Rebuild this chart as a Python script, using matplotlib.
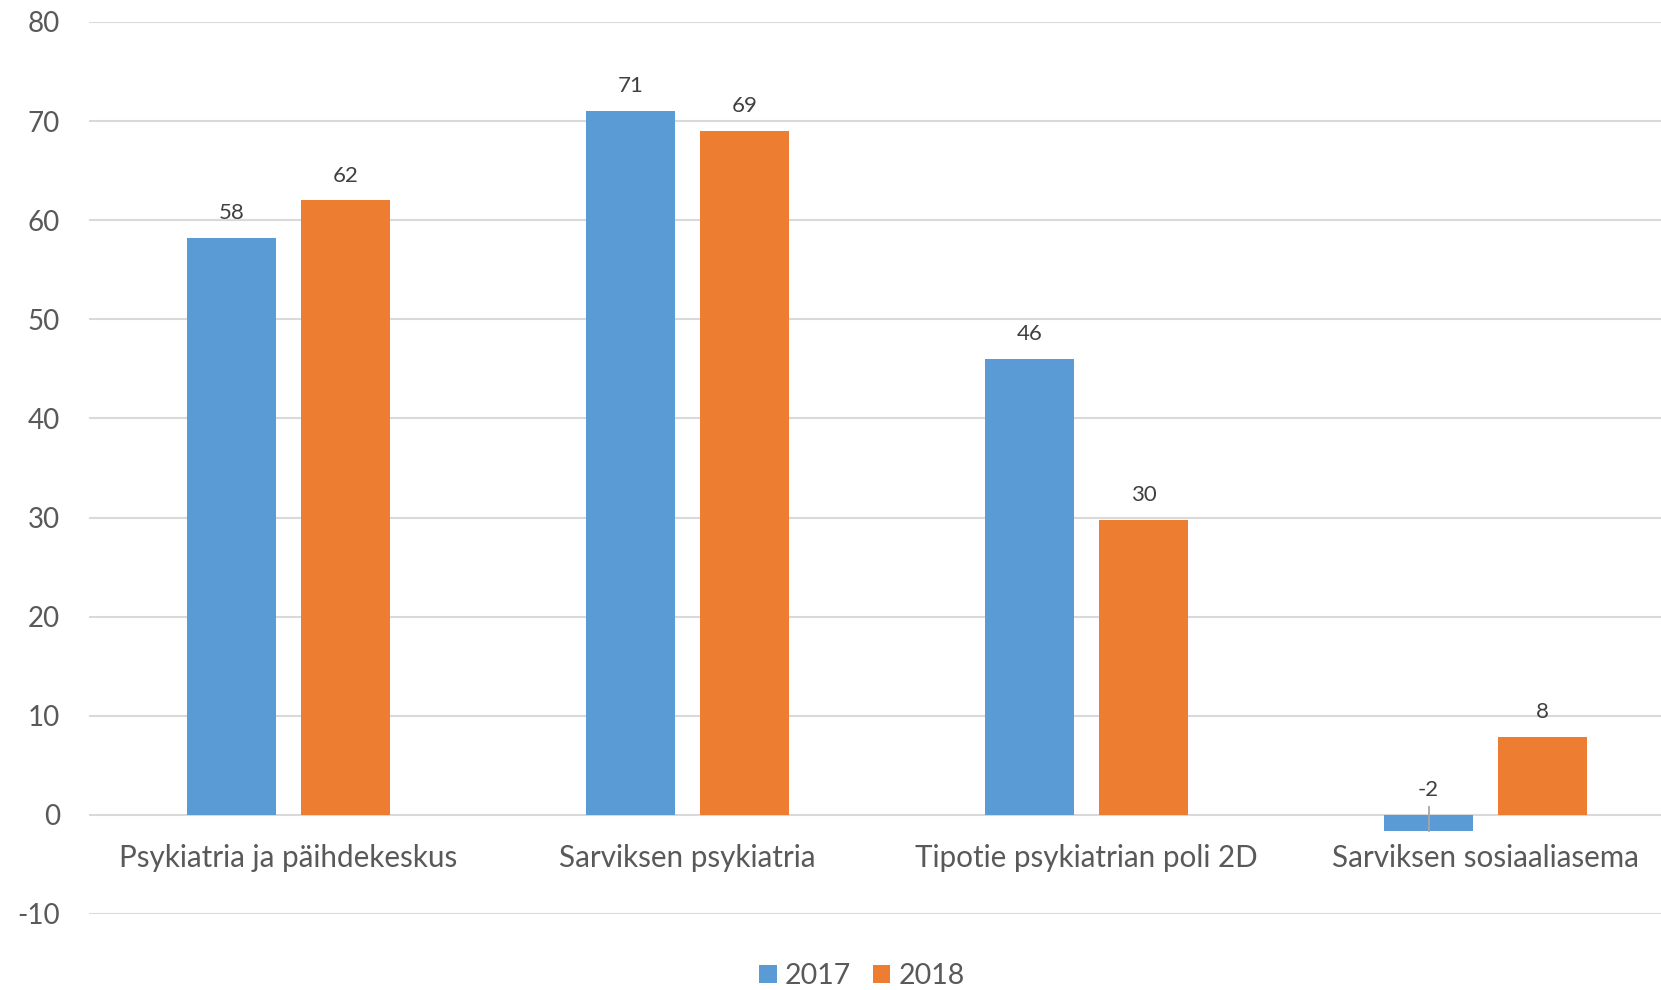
import matplotlib
matplotlib.use("Agg")
import matplotlib.pyplot as plt
import numpy as np

categories = ["Psykiatria ja päihdekeskus", "Sarviksen psykiatria",
              "Tipotie psykiatrian poli 2D", "Sarviksen sosiaaliasema"]
series_names = ["2017", "2018"]
values_2017 = [58.2, 71.0, 46.0, -1.6]
values_2018 = [62.0, 69.0, 29.8, 7.9]
y_ticks = [-10, 0, 10, 20, 30, 40, 50, 60, 70, 80]

colors = ["#5B9BD5", "#ED7D31"]
text_color = "#595959"
grid_color = "#D9D9D9"

plt.rcParams['font.family'] = ['Lato', 'DejaVu Sans']

W, H = 1661, 990
fig = plt.figure(figsize=(W / 100, H / 100), dpi=100)
left_px, right_px = 89, 1685
top_px, bot_px = 22, 914
ax = fig.add_axes([left_px / W, 1 - bot_px / H, (right_px - left_px) / W, (bot_px - top_px) / H])

x = np.arange(len(categories))
bw = 89 / 399
off = (89 + 25) / 2 / 399

for vals, name, col, sgn in [(values_2017, series_names[0], colors[0], -1),
                             (values_2018, series_names[1], colors[1], 1)]:
    xs = x + sgn * off
    ax.bar(xs, vals, width=bw, color=col, label=name, zorder=3)
    for xi, v in zip(xs, vals):
        ax.annotate(f"{round(v):d}", xy=(xi, max(v, 0)), xytext=(0, 13.5),
                    textcoords="offset points", ha="center", va="baseline",
                    fontsize=16, color="#404040", zorder=5)
        if v < 0:
            ax.plot([xi, xi], [v, 0.8], color="#A6A6A6", lw=1.3, zorder=4)

ax.set_xlim(-0.5, len(categories) - 0.5)
ax.set_ylim(y_ticks[0], y_ticks[-1])
ax.set_yticks(y_ticks)
ax.set_yticklabels([str(t) for t in y_ticks], fontsize=20, color=text_color)
ax.tick_params(axis="y", length=0, pad=21)
ax.set_xticks([])
for s in ax.spines.values():
    s.set_visible(False)
ax.grid(axis="y", color=grid_color, lw=1.5, zorder=0)
ax.set_axisbelow(True)

for xi, c in zip(x, categories):
    ax.annotate(c, xy=(xi, 0), xytext=(0, -37.5), textcoords="offset points",
                ha="center", va="baseline", fontsize=21.3, color=text_color,
                annotation_clip=False)

handles, labels = ax.get_legend_handles_labels()
leg = fig.legend(handles, labels, loc="center", bbox_to_anchor=(862 / W, 1 - 976 / H),
                 ncol=2, frameon=False, fontsize=20.5, handlelength=0.62, handleheight=0.62,
                 handletextpad=0.3, columnspacing=0.75, labelcolor=text_color)

fig.savefig("out.png", dpi=100)
